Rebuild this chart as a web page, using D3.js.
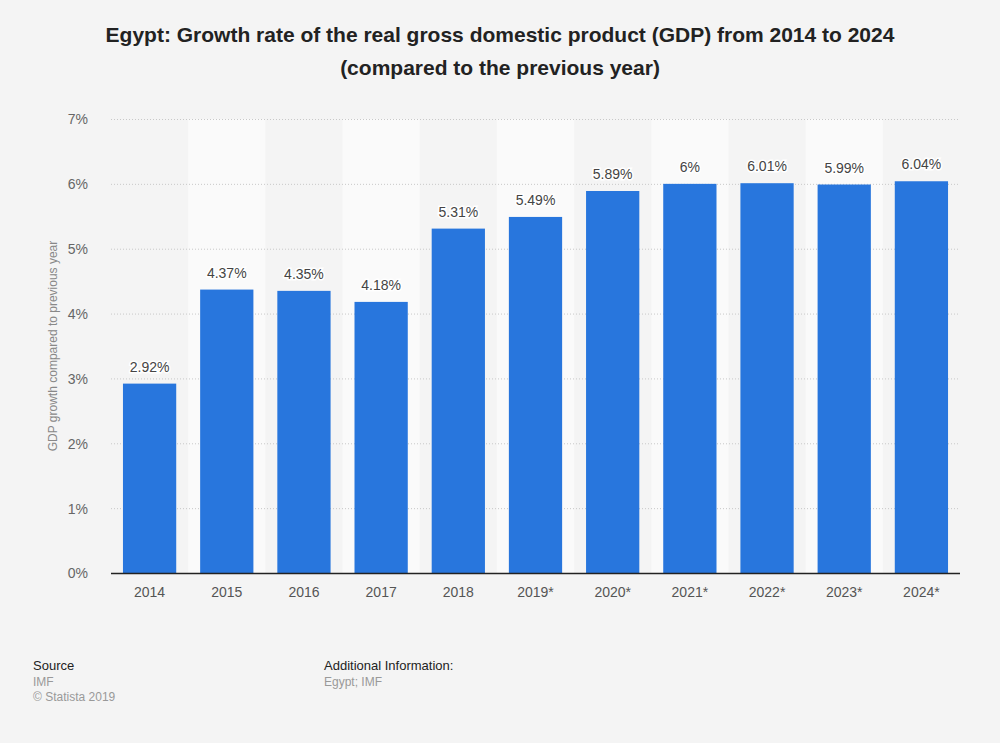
<!DOCTYPE html>
<html><head><meta charset="utf-8">
<script src="https://cdn.jsdelivr.net/npm/d3@7"></script>
<style>
html,body{margin:0;padding:0;background:#f4f4f4;}
svg{display:block;font-family:"Liberation Sans",Arial,sans-serif;}
</style></head>
<body><svg id="c" width="1000" height="743"></svg>
<script>
const categories = ["2014","2015","2016","2017","2018","2019*","2020*","2021*","2022*","2023*","2024*"];
const values = [2.92,4.37,4.35,4.18,5.31,5.49,5.89,6,6.01,5.99,6.04];
const valueLabels = ["2.92%","4.37%","4.35%","4.18%","5.31%","5.49%","5.89%","6%","6.01%","5.99%","6.04%"];
const yTicks = [0,1,2,3,4,5,6,7];

const svg = d3.select("#c");
const L = 111, R = 960, T = 119, B = 573;
const x = d3.scaleBand().domain(categories).range([L,R]).paddingInner(0.31).paddingOuter(0.155);
const xb = d3.scaleBand().domain(categories).range([L,R]).padding(0);
const y = d3.scaleLinear().domain([0,7]).range([B,T]);

// alternating bands
svg.append("g").selectAll("rect").data(categories.filter((d,i)=>i%2===1)).join("rect")
  .attr("x",d=>xb(d)).attr("width",xb.bandwidth()).attr("y",T).attr("height",B-T).attr("fill","#fafafa");

// gridlines
svg.append("g").selectAll("line").data(yTicks.filter(d=>d>0)).join("line")
  .attr("x1",L).attr("x2",R).attr("y1",d=>y(d)+0.5).attr("y2",d=>y(d)+0.5)
  .attr("stroke","#c8c8c8").attr("stroke-dasharray","1,2");

// y axis labels
const ya = svg.append("g").attr("transform",`translate(${L-20},0)`)
  .call(d3.axisLeft(y).tickValues(yTicks).tickFormat(d=>d+"%").tickSize(0));
ya.select(".domain").remove();
ya.selectAll("text").attr("font-size",14).attr("fill","#666").attr("font-family","Liberation Sans, Arial, sans-serif").attr("dy","0.35em");

// bars
svg.append("g").selectAll("rect").data(values).join("rect")
  .attr("x",(d,i)=>x(categories[i])).attr("width",x.bandwidth())
  .attr("y",d=>y(d)).attr("height",d=>B-y(d)).attr("fill","#2876dd");

// baseline
svg.append("line").attr("x1",L).attr("x2",R).attr("y1",B+0.5).attr("y2",B+0.5).attr("stroke","#222").attr("stroke-width",1.3);

// x axis
const xa = svg.append("g").attr("transform",`translate(0,${B})`)
  .call(d3.axisBottom(x).tickSize(0).tickPadding(14));
xa.select(".domain").remove();
xa.selectAll("text").attr("font-size",14).attr("fill","#555").attr("font-family","Liberation Sans, Arial, sans-serif");

// value labels
svg.append("g").selectAll("text").data(values).join("text")
  .attr("x",(d,i)=>x(categories[i])+x.bandwidth()/2).attr("y",d=>y(d)-12)
  .attr("text-anchor","middle").attr("font-size",14).attr("fill","#444")
  .attr("stroke","#fff").attr("stroke-width",3).attr("paint-order","stroke")
  .text((d,i)=>valueLabels[i]);

// y axis title
svg.append("text").attr("transform","translate(57,346) rotate(-90)")
  .attr("text-anchor","middle").attr("font-size",12).attr("fill","#888")
  .text("GDP growth compared to previous year");

// title
const title = svg.append("text").attr("text-anchor","middle").attr("font-size",21).attr("font-weight","bold").attr("fill","#222")
  .attr("font-family","Liberation Sans, Arial, sans-serif");
title.append("tspan").attr("x",500).attr("y",42).text("Egypt: Growth rate of the real gross domestic product (GDP) from 2014 to 2024");
title.append("tspan").attr("x",500).attr("y",75).text("(compared to the previous year)");

// footer
svg.append("text").attr("x",33).attr("y",670).attr("font-size",13).attr("fill","#222").text("Source");
svg.append("text").attr("x",33).attr("y",686).attr("font-size",12).attr("fill","#999").text("IMF");
svg.append("text").attr("x",33).attr("y",701).attr("font-size",12).attr("fill","#999").text("© Statista 2019");
svg.append("text").attr("x",324).attr("y",670).attr("font-size",13).attr("fill","#222").text("Additional Information:");
svg.append("text").attr("x",324).attr("y",686).attr("font-size",12).attr("fill","#999").text("Egypt; IMF");
</script></body></html>
